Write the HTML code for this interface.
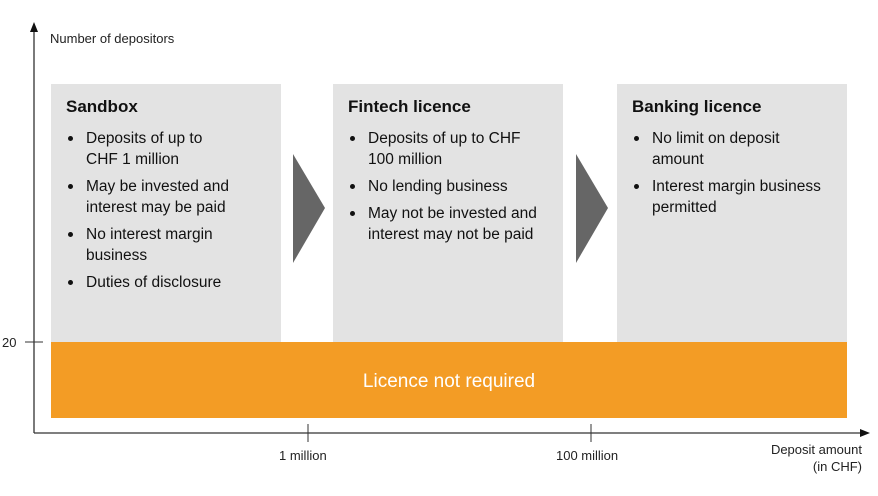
<!DOCTYPE html>
<html><head><style>
body{margin:0;width:878px;height:496px;background:#fff;position:relative;font-family:"Liberation Sans",Arial,sans-serif;color:#111;overflow:hidden}
.b{position:absolute;top:84px;height:258px;width:230px;background:#e3e3e3}
.b h3{margin:0;position:absolute;left:15px;top:13px;font-size:17px;font-weight:bold}
.b ul{position:absolute;left:15px;top:44px;margin:0;padding:0;list-style:none;font-size:15.5px;line-height:21px;width:215px;white-space:nowrap}
.b li{position:relative;padding-left:20px;margin-bottom:6px}
.b li:before{content:"";position:absolute;left:2px;top:8px;width:5px;height:5px;border-radius:50%;background:#111}
.t{position:absolute;font-size:13px;color:#222}
</style></head><body>
<div class="b" style="left:51px"><h3>Sandbox</h3><ul><li>Deposits of up to<br>CHF 1 million</li><li>May be invested and<br>interest may be paid</li><li>No interest margin<br>business</li><li>Duties of disclosure</li></ul></div>
<div class="b" style="left:333px"><h3>Fintech licence</h3><ul><li>Deposits of up to CHF<br>100 million</li><li>No lending business</li><li>May not be invested and<br>interest may not be paid</li></ul></div>
<div class="b" style="left:617px"><h3>Banking licence</h3><ul><li>No limit on deposit<br>amount</li><li>Interest margin business<br>permitted</li></ul></div>
<div style="position:absolute;left:51px;top:342px;width:796px;height:76px;background:#f39c25;color:#fff;font-size:19px;text-align:center;line-height:80px">Licence not required</div>
<svg width="878" height="496" style="position:absolute;left:0;top:0">
<polygon points="293,154 325,208 293,263" fill="#666"/>
<polygon points="576,154 608,208 576,263" fill="#666"/>
<line x1="34" y1="30" x2="34" y2="433" stroke="#333" stroke-width="1.3"/>
<polygon points="30,32 34,22 38,32" fill="#111"/>
<line x1="34" y1="433" x2="862" y2="433" stroke="#333" stroke-width="1.3"/>
<polygon points="860,429 870,433 860,437" fill="#111"/>
<line x1="25" y1="342" x2="43" y2="342" stroke="#333"/>
<line x1="308" y1="424" x2="308" y2="442" stroke="#333"/>
<line x1="591" y1="424" x2="591" y2="442" stroke="#333"/>
</svg>
<div class="t" style="left:50px;top:31px">Number of depositors</div>
<div class="t" style="left:2px;top:335px">20</div>
<div class="t" style="left:279px;top:448px">1 million</div>
<div class="t" style="left:556px;top:448px">100 million</div>
<div class="t" style="left:740px;top:441px;width:122px;text-align:right;line-height:17px">Deposit amount<br>(in CHF)</div>
</body></html>
